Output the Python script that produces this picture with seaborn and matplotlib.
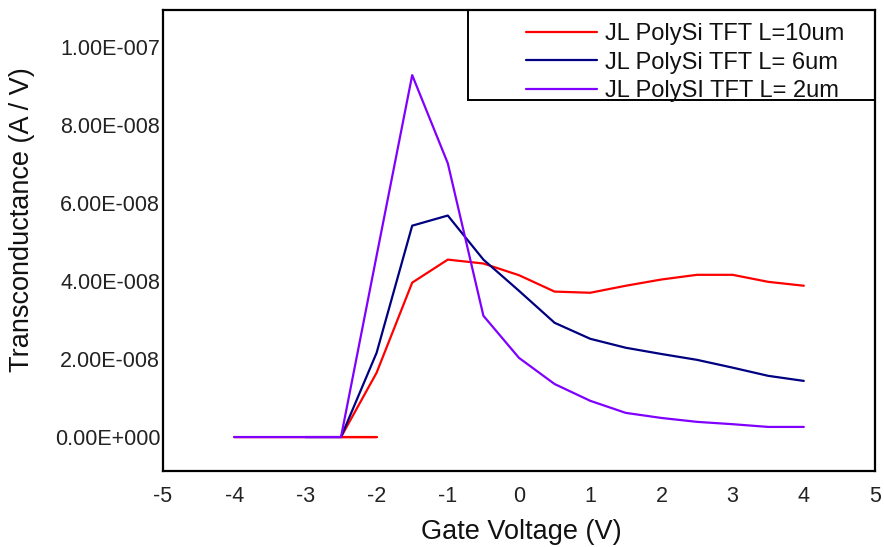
import numpy as np
import pandas as pd
import matplotlib
matplotlib.use("Agg")
import matplotlib.pyplot as plt
import seaborn as sns
from matplotlib.patches import Rectangle
from matplotlib.ticker import FuncFormatter

# ---- data ----
series_labels = ["JL PolySi TFT L=10um", "JL PolySi TFT L= 6um", "JL PolySI TFT L= 2um"]
series_colors = ["#ff0000", "#000080", "#8000ff"]

v_10um = [-4, -3.5, -3, -2.5, -2, -2.5, -2, -1.5, -1, -0.5, 0, 0.5, 1, 1.5, 2, 2.5, 3, 3.5, 4]
gm_10um = [0, 0, 0, 0, 0, 0, 1.65e-8, 3.96e-8, 4.55e-8, 4.45e-8, 4.15e-8, 3.73e-8, 3.70e-8,
           3.88e-8, 4.04e-8, 4.16e-8, 4.16e-8, 3.98e-8, 3.88e-8]

v_6um = [-3, -2.5, -2, -1.5, -1, -0.5, 0, 0.5, 1, 1.5, 2, 2.5, 3, 3.5, 4]
gm_6um = [0, 0, 2.16e-8, 5.42e-8, 5.68e-8, 4.55e-8, 3.75e-8, 2.93e-8, 2.52e-8, 2.29e-8,
          2.13e-8, 1.98e-8, 1.78e-8, 1.57e-8, 1.44e-8]

v_2um = [-4, -3.5, -3, -2.5, -2, -1.5, -1, -0.5, 0, 0.5, 1, 1.5, 2, 2.5, 3, 3.5, 4]
gm_2um = [0, 0, 0, 0, 4.65e-8, 9.28e-8, 7.02e-8, 3.11e-8, 2.03e-8, 1.36e-8, 0.93e-8,
          0.62e-8, 0.49e-8, 0.39e-8, 0.33e-8, 0.26e-8, 0.26e-8]

x_ticks = [-5, -4, -3, -2, -1, 0, 1, 2, 3, 4, 5]
y_ticks = [0, 2e-8, 4e-8, 6e-8, 8e-8, 1e-7]

df = pd.concat([
    pd.DataFrame({"V": v_10um, "gm": gm_10um, "series": series_labels[0]}),
    pd.DataFrame({"V": v_6um, "gm": gm_6um, "series": series_labels[1]}),
    pd.DataFrame({"V": v_2um, "gm": gm_2um, "series": series_labels[2]}),
], ignore_index=True)

# ---- style ----
sns.set_theme(style="white")
plt.rcParams["font.family"] = ["Liberation Sans", "DejaVu Sans"]

fig = plt.figure(figsize=(8.84, 5.47), dpi=100)
ax = fig.add_axes([163 / 884, 1 - 471 / 547, 712 / 884, 461 / 547])

sns.lineplot(data=df, x="V", y="gm", hue="series", hue_order=series_labels,
             palette=dict(zip(series_labels, series_colors)), sort=False,
             estimator=None, units="series", linewidth=1.6, ax=ax, legend=False)

ax.set_xlim(-5, 5)
ax.set_ylim(-0.087e-7, 1.095e-7)
ax.set_xticks(x_ticks)
ax.set_yticks(y_ticks)
ax.set_xticklabels([str(t) for t in x_ticks])


def sci_fmt(v, pos=None):
    if v == 0:
        return "0.00E+000"
    e = int(np.floor(np.log10(abs(v))))
    m = v / 10 ** e
    sign = "+" if e >= 0 else "-"
    return f"{m:.2f}E{sign}{abs(e):03d}"


ax.yaxis.set_major_formatter(FuncFormatter(sci_fmt))
ax.tick_params(axis="both", length=0, labelsize=15.5, colors="#222222")
ax.tick_params(axis="x", pad=11)
ax.tick_params(axis="y", pad=2)

for s in ax.spines.values():
    s.set_visible(True)
    s.set_color("black")
    s.set_linewidth(1.6)

ax.set_xlabel("Gate Voltage (V)", fontsize=19.5, color="#111111")
ax.set_ylabel("Transconductance (A / V)", fontsize=19.5, color="#111111")
ax.xaxis.set_label_coords(0.503, -0.105)
ax.yaxis.set_label_coords(-0.18, 0.545)

# legend
handles = [plt.Line2D([], [], color=c, linewidth=1.6) for c in series_colors]
leg = ax.legend(handles, series_labels, loc="center", bbox_to_anchor=(0.733, 0.886),
                frameon=False, fontsize=17, handlelength=3.0, handletextpad=0.35,
                labelspacing=0.27, borderpad=0.3)
for t in leg.get_texts():
    t.set_color("#111111")
ax.add_patch(Rectangle((0.428, 0.805), 0.572, 0.195, transform=ax.transAxes,
                       fill=False, edgecolor="black", linewidth=1.4, zorder=5,
                       clip_on=False))

fig.savefig("out.png", dpi=100)
